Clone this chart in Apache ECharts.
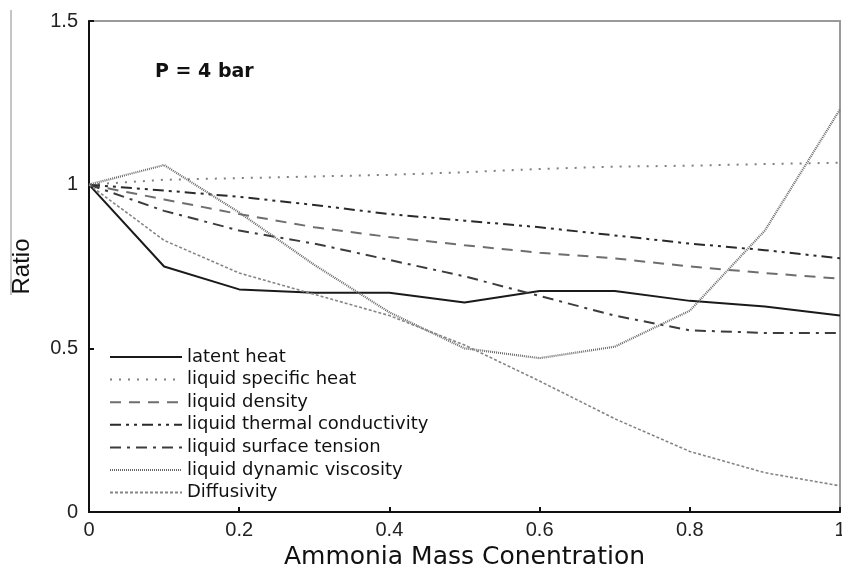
<!DOCTYPE html>
<html>
<head>
<meta charset="utf-8">
<title>Property ratios vs ammonia mass concentration</title>
<script src="https://cdn.jsdelivr.net/npm/echarts@6/dist/echarts.min.js"></script>
<style>
  html, body { margin: 0; padding: 0; background: #fff; }
  #chart { width: 842px; height: 577px; }
</style>
</head>
<body>
<div id="chart"></div>
<script>
// Ammonia mass concentration (x) and property ratios relative to pure water, P = 4 bar
const concentration = [0, 0.1, 0.2, 0.3, 0.4, 0.5, 0.6, 0.7, 0.8, 0.9, 1.0];
const latentHeat = [1, 0.75, 0.68, 0.67, 0.67, 0.64, 0.675, 0.675, 0.645, 0.628, 0.60];
const specificHeat = [1, 1.015, 1.02, 1.025, 1.03, 1.038, 1.048, 1.055, 1.058, 1.063, 1.067];
const density = [1, 0.955, 0.91, 0.87, 0.84, 0.815, 0.792, 0.775, 0.75, 0.73, 0.713];
const thermalConductivity = [1, 0.982, 0.963, 0.938, 0.91, 0.89, 0.87, 0.845, 0.82, 0.80, 0.775];
const surfaceTension = [1, 0.92, 0.86, 0.82, 0.77, 0.72, 0.66, 0.60, 0.555, 0.547, 0.547];
const viscosity = [1, 1.06, 0.915, 0.755, 0.61, 0.50, 0.47, 0.505, 0.615, 0.86, 1.23];
const diffusivity = [1, 0.83, 0.73, 0.665, 0.60, 0.51, 0.40, 0.285, 0.185, 0.12, 0.08];

const seriesNames = [
  'latent heat',
  'liquid specific heat',
  'liquid density',
  'liquid thermal conductivity',
  'liquid surface tension',
  'liquid dynamic viscosity',
  'Diffusivity'
];
const seriesValues = [latentHeat, specificHeat, density, thermalConductivity,
  surfaceTension, viscosity, diffusivity];

// line look per property
const lineLooks = [
  { color: '#1a1a1a', width: 2, type: 'solid' },
  { color: '#808080', width: 2, type: [2, 7] },
  { color: '#6e6e6e', width: 2, type: [11, 8] },
  { color: '#2a2a2a', width: 2, type: [11, 5, 3, 5, 3, 5] },
  { color: '#3c3c3c', width: 2, type: [11, 6, 3, 6] },
  { color: '#6a6a6a', width: 2.2, type: [1, 1] },
  { color: '#858585', width: 1.6, type: [3, 2] }
];

const pairs = (ys) => concentration.map((x, i) => [x, ys[i]]);

const chart = echarts.init(document.getElementById('chart'), null, { renderer: 'canvas' });

chart.setOption({
  animation: false,
  backgroundColor: '#ffffff',
  textStyle: { fontFamily: 'DejaVu Sans' },
  title: {
    text: 'P = 4 bar',
    left: 150,
    top: 58,
    textStyle: { fontFamily: 'DejaVu Sans', fontWeight: 'bold', fontSize: 19, color: '#111' }
  },
  grid: {
    left: 89, right: 2, top: 21, bottom: 65,
    outerBoundsMode: 'none',
    containLabel: false,
    show: true, borderColor: '#9a9a9a', borderWidth: 2
  },
  legend: {
    show: true,
    orient: 'vertical',
    left: 104,
    top: 343,
    itemWidth: 72,
    itemHeight: 14,
    itemGap: 4.6,
    // line samples only, no marker dot
    itemStyle: { opacity: 0 },
    textStyle: {
      fontFamily: 'DejaVu Sans',
      fontSize: 18,
      color: '#111'
    }
  },
  xAxis: {
    type: 'value',
    min: 0, max: 1, interval: 0.2,
    name: 'Ammonia Mass Conentration',
    nameLocation: 'middle',
    nameGap: 29,
    nameTextStyle: { fontFamily: 'DejaVu Sans', fontSize: 25, color: '#111' },
    axisLine: { lineStyle: { color: '#111', width: 2 } },
    axisTick: { inside: true, length: 5, lineStyle: { color: '#111', width: 2 } },
    axisLabel: { fontFamily: 'Liberation Sans', fontSize: 20, color: '#222', margin: 8 },
    splitLine: { show: false }
  },
  yAxis: {
    type: 'value',
    min: 0, max: 1.5, interval: 0.5,
    name: 'Ratio',
    nameLocation: 'middle',
    nameGap: 55,
    nameTextStyle: { fontFamily: 'Liberation Sans', fontSize: 24, color: '#111' },
    axisLine: { show: true, lineStyle: { color: '#111', width: 2 } },
    axisTick: { show: true, inside: true, length: 5, lineStyle: { color: '#111', width: 2 } },
    axisLabel: { fontFamily: 'Liberation Sans', fontSize: 20, color: '#222', margin: 11 },
    splitLine: { show: false }
  },
  graphic: [{
    type: 'line',
    shape: { x1: 11, y1: 10, x2: 11, y2: 295 },
    style: { stroke: '#8c8c8c', lineWidth: 1 },
    silent: true
  }],
  series: seriesNames.map((name, i) => ({
    name: name,
    type: 'line',
    data: pairs(seriesValues[i]),
    symbol: 'none',
    color: lineLooks[i].color,
    lineStyle: {
      color: lineLooks[i].color,
      width: lineLooks[i].width,
      type: lineLooks[i].type
    }
  }))
});
</script>
</body>
</html>
